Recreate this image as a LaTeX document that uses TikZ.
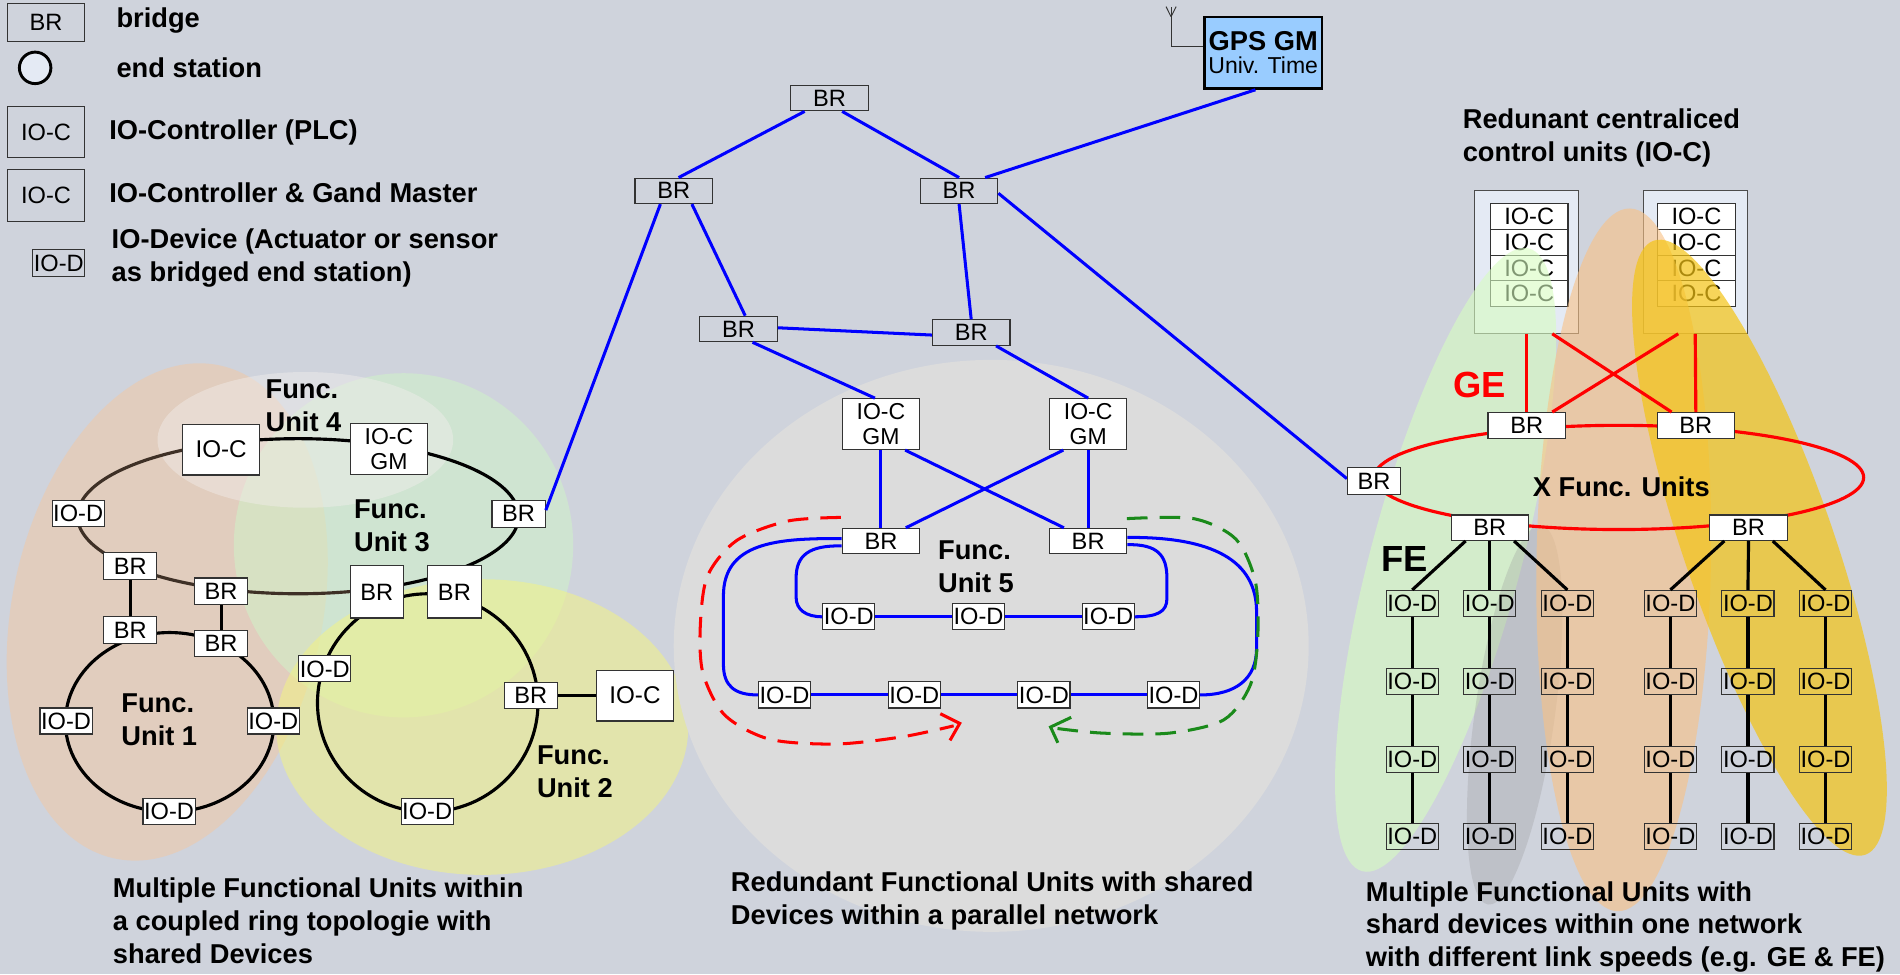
\documentclass[tikz,border=0pt]{standalone}
\usepackage{fontspec}
\setmainfont{Liberation Sans}
\usetikzlibrary{calc}
\definecolor{bg}{HTML}{CFD3DC}
\definecolor{boxline}{HTML}{333333}
\definecolor{netblue}{HTML}{0000FF}
\definecolor{gered}{HTML}{FF0000}
\definecolor{ringbrown}{HTML}{3E3026}
\definecolor{gpsblue}{HTML}{99CCFF}
\definecolor{rackfill}{HTML}{E4EAF4}
\definecolor{dashgreen}{HTML}{1A8A1A}
\definecolor{peach}{HTML}{E8CBB4}
\definecolor{paleblob}{HTML}{F2EEEC}
\definecolor{greenblob}{HTML}{CFF3C8}
\definecolor{yellowblob}{HTML}{F2F385}
\definecolor{grayblob}{HTML}{DCDCDC}
\definecolor{rgreen}{HTML}{D7FDC1}
\definecolor{rpeach}{HTML}{F9C185}
\definecolor{rgold}{HTML}{F4C414}
\definecolor{rdark}{HTML}{9A9A9A}

\begin{document}
\begin{tikzpicture}[x=1pt,y=-1pt,
  heading/.style={font=\fontsize{22.5}{27}\selectfont\bfseries, align=left, inner sep=0pt},
  box/.style={draw=boxline, line width=0.9pt, fill=white, inner sep=0pt,
              font=\fontsize{19.5}{21}\selectfont, align=center},
  brs/.style={box, minimum width=44pt, minimum height=22pt},
  brw/.style={box, minimum width=64pt, minimum height=21pt},
  brbig/.style={box, minimum width=44pt, minimum height=43pt},
  iod/.style={box, minimum width=43pt, minimum height=21.5pt},
  ioc/.style={box, minimum width=64pt, minimum height=42pt, font=\fontsize{20}{21}\selectfont},
  gmbox/.style={ioc, font=\fontsize{19}{21}\selectfont},
  ring/.style={line width=2.6pt, black},
  blue link/.style={line width=2.5pt, netblue},
  ge link/.style={line width=2.6pt, gered},
  fe link/.style={line width=2.6pt, black},
  fu/.style={heading, anchor=west},
  path dash/.style={line width=2.5pt, dash pattern=on 17pt off 10pt},
]
\useasboundingbox (0,0) rectangle (1568,804);
\fill[bg] (0,0) rectangle (1568,804);

% ---------- legend ----------
\node[box, fill=bg, minimum width=64pt, minimum height=31pt] (lgbr) at (38,18.5) {BR};
\node[circle, draw=black, line width=2.4pt, fill=rackfill, minimum size=26pt, inner sep=0pt] (lges) at (29,56) {};
\node[box, fill=bg, minimum width=64pt, minimum height=42pt] (lgioc) at (38,109) {IO-C};
\node[box, fill=bg, minimum width=64pt, minimum height=43pt] (lgiocgm) at (38,161.5) {IO-C};
\node[box, fill=bg, minimum width=43pt, minimum height=22pt] (lgiod) at (48.5,217) {IO-D};
\node[heading, anchor=west] (tbr) at (96,17) {bridge};
\node[heading, anchor=west] (tes) at (96,56) {end station};
\node[heading, anchor=west] (tioc) at (90,109) {IO-Controller (PLC)};
\node[heading, anchor=west] (tgm) at (90,159) {IO-Controller \& Gand Master};
\node[heading, anchor=west] (tiod) at (92,213) {IO-Device (Actuator or sensor\\as bridged end station)};

% ---------- left: coupled rings, shaded function units ----------
\fill[peach, opacity=0.75, rotate around={-12:(138,505)}] (138,505) ellipse [x radius=128, y radius=208];
\fill[greenblob, opacity=0.55] (333,450) ellipse [x radius=140, y radius=142];
\fill[paleblob, opacity=0.45] (252,363) ellipse [x radius=122, y radius=56];
\fill[yellowblob, opacity=0.55] (398,600) ellipse [x radius=170, y radius=122];

% ---------- middle: shaded function unit 5 ----------
\fill[grayblob] (818,533) ellipse [x radius=262, y radius=236];

% rings
\draw[ring, ringbrown] plot[domain=76:260, samples=90, smooth] ({246+182*cos(\x)},{426+64*sin(\x)});
\draw[ring] plot[domain=-100:76, samples=90, smooth] ({246+182*cos(\x)},{426+64*sin(\x)});
\draw[ring] (140,596) ellipse [x radius=86, y radius=74];
\draw[ring] (353,580) ellipse [x radius=91, y radius=90];

\node[ioc] (fu4ioc) at (182.5,371) {IO-C};
\node[gmbox] (fu4gm) at (321,370.5) {IO-C\\GM};
\node[brs] (fu3br) at (428,424) {BR};
\node[iod] (fu4iod) at (64.5,424) {IO-D};
\node[brs] (brul) at (107.5,467) {BR};
\node[brs] (brmid) at (182.5,488) {BR};
\node[brbig] (brbig) at (311,488.5) {BR};
\node[brbig] (brbigr) at (375,488.5) {BR};
\node[brs] (brll) at (107.5,520) {BR};
\node[brs] (brlm) at (182.5,531) {BR};
\node[iod] (fu1iodl) at (54.5,595) {IO-D};
\node[iod] (fu1iodr) at (225.5,595) {IO-D};
\node[iod] (fu1iodb) at (139.5,669.5) {IO-D};
\node[iod] (fu2iodl) at (268,552) {IO-D};
\node[brs] (fu2br) at (438,574) {BR};
\node[ioc] (fu2ioc) at (524,574) {IO-C};
\node[iod] (fu2iodb) at (352.5,669.5) {IO-D};

\draw[ring] (brul) -- (brll);
\draw[ring] (brmid) -- (brlm);
\draw[ring] (fu2br) -- (fu2ioc);

\node[fu] (lfu4) at (219,335) {Func.\\Unit 4};
\node[fu] (lfu3) at (292,434) {Func.\\Unit 3};
\node[fu] (lfu1) at (100,594) {Func.\\Unit 1};
\node[fu] (lfu2) at (443,637) {Func.\\Unit 2};

% ---------- middle: bridged backbone ----------
\node[box, line width=2.2pt, draw=black, fill=gpsblue, minimum width=97pt, minimum height=59pt] (gps) at (1042.5,43.5)
  {{\fontsize{22.5}{24}\selectfont\bfseries GPS GM}\\[-2pt]{\fontsize{19}{21}\selectfont Univ. Time}};
\coordinate (ant) at (966.4,5.5);
\draw[black!80, line width=0.8pt] ([yshift=5pt]gps.west) -| (ant);
\draw[black!80, line width=0.8pt] (966.4,13.8) -- (962.3,5.5) (966.4,13.8) -- (970.6,5.5);

\node[brw, fill=bg] (brT) at (684.5,81) {BR};
\node[brw, fill=bg] (brL) at (556,157.5) {BR};
\node[brw, fill=bg] (brR) at (791.5,157.5) {BR};
\node[brw, fill=bg] (brML) at (609.5,271.5) {BR};
\node[brw, fill=bg] (brMR) at (801.5,274.5) {BR};
\node[gmbox] (gmL) at (727,350) {IO-C\\GM};
\node[gmbox] (gmR) at (898,350) {IO-C\\GM};
\node[brw] (brFL) at (727,446.5) {BR};
\node[brw] (brFR) at (898,446.5) {BR};
\node[iod] (iodI1) at (700.5,509) {IO-D};
\node[iod] (iodI2) at (807.5,509) {IO-D};
\node[iod] (iodI3) at (914.5,509) {IO-D};
\node[iod] (iodO1) at (647.5,573.5) {IO-D};
\node[iod] (iodO2) at (754.5,573.5) {IO-D};
\node[iod] (iodO3) at (861.5,573.5) {IO-D};
\node[iod] (iodO4) at (968.5,573.5) {IO-D};
\node[brs] (brNet) at (1134,397) {BR};

\draw[blue link] ([xshift=-6.5pt]gps.south) -- ([xshift=21.5pt]brR.north);
\draw[blue link] ([xshift=-20.5pt]brT.south) -- ([xshift=4pt]brL.north);
\draw[blue link] ([xshift=10.5pt]brT.south) -- (brR.north);
\draw[blue link] ([xshift=-11pt]brL.south) -- ([yshift=3pt]fu3br.east);
\draw[blue link] ([xshift=15pt]brL.south) -- ([xshift=5.5pt]brML.north);
\draw[blue link] (brR.south) -- (brMR.north);
\draw[blue link] ([yshift=-2pt]brR.east) -- ([yshift=2pt]brNet.west);
\draw[blue link] ([yshift=1pt]brML.east) -- ([yshift=-2pt]brMR.west);
\draw[blue link] ([xshift=11.5pt]brML.south) -- ([xshift=-5pt]gmL.north);
\draw[blue link] ([xshift=20.5pt]brMR.south) -- (gmR.north);
\draw[blue link] (gmL.south) -- (brFL.north);
\draw[blue link] ([xshift=20pt]gmL.south) -- ([xshift=-20pt]brFR.north);
\draw[blue link] ([xshift=-20.5pt]gmR.south) -- ([xshift=20.5pt]brFL.north);
\draw[blue link] (gmR.south) -- (brFR.north);

% outer and inner device lines of unit 5
\draw[blue link] ([yshift=2pt]brFL.west) .. controls (640,444) and (597,448) .. (597,492)
  -- (597,548) .. controls (597,566) and (606,573.5) .. (iodO1.west);
\draw[blue link] ([yshift=-4pt]brFL.west) .. controls (668,450) and (657,458) .. (657,477)
  -- (657,493) .. controls (657,503) and (665,509) .. (iodI1.west);
\draw[blue link] ([yshift=3pt]brFR.east) .. controls (1000,443) and (1037,462) .. (1037,505)
  -- (1037,535) .. controls (1037,560) and (1020,573.5) .. (iodO4.east);
\draw[blue link] ([yshift=-3pt]brFR.east) .. controls (955,449) and (963,458) .. (963,477)
  -- (963,494) .. controls (963,505) and (955,509) .. (iodI3.east);
\draw[blue link] (iodI1) -- (iodI2);
\draw[blue link] (iodI2) -- (iodI3);
\draw[blue link] (iodO1) -- (iodO2);
\draw[blue link] (iodO2) -- (iodO3);
\draw[blue link] (iodO3) -- (iodO4);

\node[fu] (lfu5) at (774,468) {Func.\\Unit 5};

% redundant paths around unit 5
\draw[gered, path dash] plot[smooth] coordinates {(694,427) (650,430) (608,446) (584,475) (578,515) (580,555) (598,590) (635,610) (690,614) (745,608) (787,599)};
\draw[gered, line width=2.5pt] (776,589) -- (792,597) -- (784,611);
\draw[dashgreen, path dash] plot[smooth] coordinates {(930,428) (985,428) (1020,445) (1036,480) (1038,525) (1032,565) (1010,594) (965,605) (910,605) (871,601)};
\draw[dashgreen, line width=2.5pt] (884,592) -- (867,600) -- (873,613);

% ---------- right: centralised controllers and device lines ----------
\node[fu] (tcent) at (1207,114) {Redunant centraliced\\control units (IO-C)};
\node[draw=black!70, fill=rackfill, line width=0.9pt, minimum width=86pt, minimum height=118pt, inner sep=0pt] (rackL) at (1260,216) {};
\node[draw=black!70, fill=rackfill, line width=0.9pt, minimum width=86pt, minimum height=118pt, inner sep=0pt] (rackR) at (1399,216) {};
\foreach \i/\yy in {1/178.6,2/199.9,3/221.1,4/242.4}{
  \node[box, minimum width=64pt, minimum height=21.25pt] (cL\i) at (1262,\yy) {IO-C};
  \node[box, minimum width=64pt, minimum height=21.25pt] (cR\i) at (1400,\yy) {IO-C};
}

\fill[rgreen, opacity=0.6, rotate around={-15:(1193,462)}] (1193,462) ellipse [x radius=62, y radius=266];
\fill[rdark, opacity=0.3, rotate around={-8:(1250,590)}] (1250,590) ellipse [x radius=33, y radius=158];
\fill[rpeach, opacity=0.6, rotate around={-1:(1340,462)}] (1340,462) ellipse [x radius=72, y radius=290];
\fill[rgold, opacity=0.7, rotate around={19:(1452,452)}] (1452,452) ellipse [x radius=62, y radius=268];

\draw[ge link] (1336,394) ellipse [x radius=202, y radius=43];

\node[brw] (brGEL) at (1260,351) {BR};
\node[brw] (brGER) at (1399.5,351) {BR};
\node[brw] (brFEL) at (1229.5,435.5) {BR};
\node[brw] (brFER) at (1443,435.5) {BR};
\node[brs] at (brNet) {BR};

\draw[ge link] (rackL.south) -- (brGEL.north);
\draw[ge link] ([xshift=21pt]rackL.south) -- ([xshift=-20pt]brGER.north);
\draw[ge link] ([xshift=-14pt]rackR.south) -- ([xshift=21pt]brGEL.north);
\draw[ge link] (rackR.south) -- (brGER.north);

\node[font=\fontsize{30}{32}\selectfont\bfseries, text=gered, inner sep=0pt] (tge) at (1221,318) {GE};
\node[font=\fontsize{30}{32}\selectfont\bfseries, inner sep=0pt] (tfe) at (1159,461) {FE};
\node[heading] (txfu) at (1338,402) {X Func. Units};

\foreach \c/\xx in {1/1165.5,2/1229.5,3/1293.5,4/1378.5,5/1442.5,6/1506.5}{
  \foreach \r/\yy in {1/498,2/562.5,3/626.5,4/690.5}{
    \node[iod, fill=none] (d\c\r) at (\xx,\yy) {IO-D};
  }
  \draw[fe link] (d\c1) -- (d\c2);
  \draw[fe link] (d\c2) -- (d\c3);
  \draw[fe link] (d\c3) -- (d\c4);
}
\draw[fe link] ([xshift=-20pt]brFEL.south) -- (d11.north);
\draw[fe link] (brFEL.south) -- (d21.north);
\draw[fe link] ([xshift=20pt]brFEL.south) -- (d31.north);
\draw[fe link] ([xshift=-20pt]brFER.south) -- (d41.north);
\draw[fe link] (brFER.south) -- (d51.north);
\draw[fe link] ([xshift=20pt]brFER.south) -- (d61.north);

% ---------- captions ----------
\node[heading, anchor=west] (capL) at (93,760) {Multiple Functional Units within\\a coupled ring topologie with\\shared Devices};
\node[heading, anchor=west] (capM) at (603,743.5) {Redundant Functional Units with shared\\Devices within a parallel network};
\node[heading, anchor=west] (capR) at (1127,765) {Multiple Functional Units with\\shard devices within one network\\with different link speeds (e.g. GE \& FE)};
\end{tikzpicture}
\end{document}
